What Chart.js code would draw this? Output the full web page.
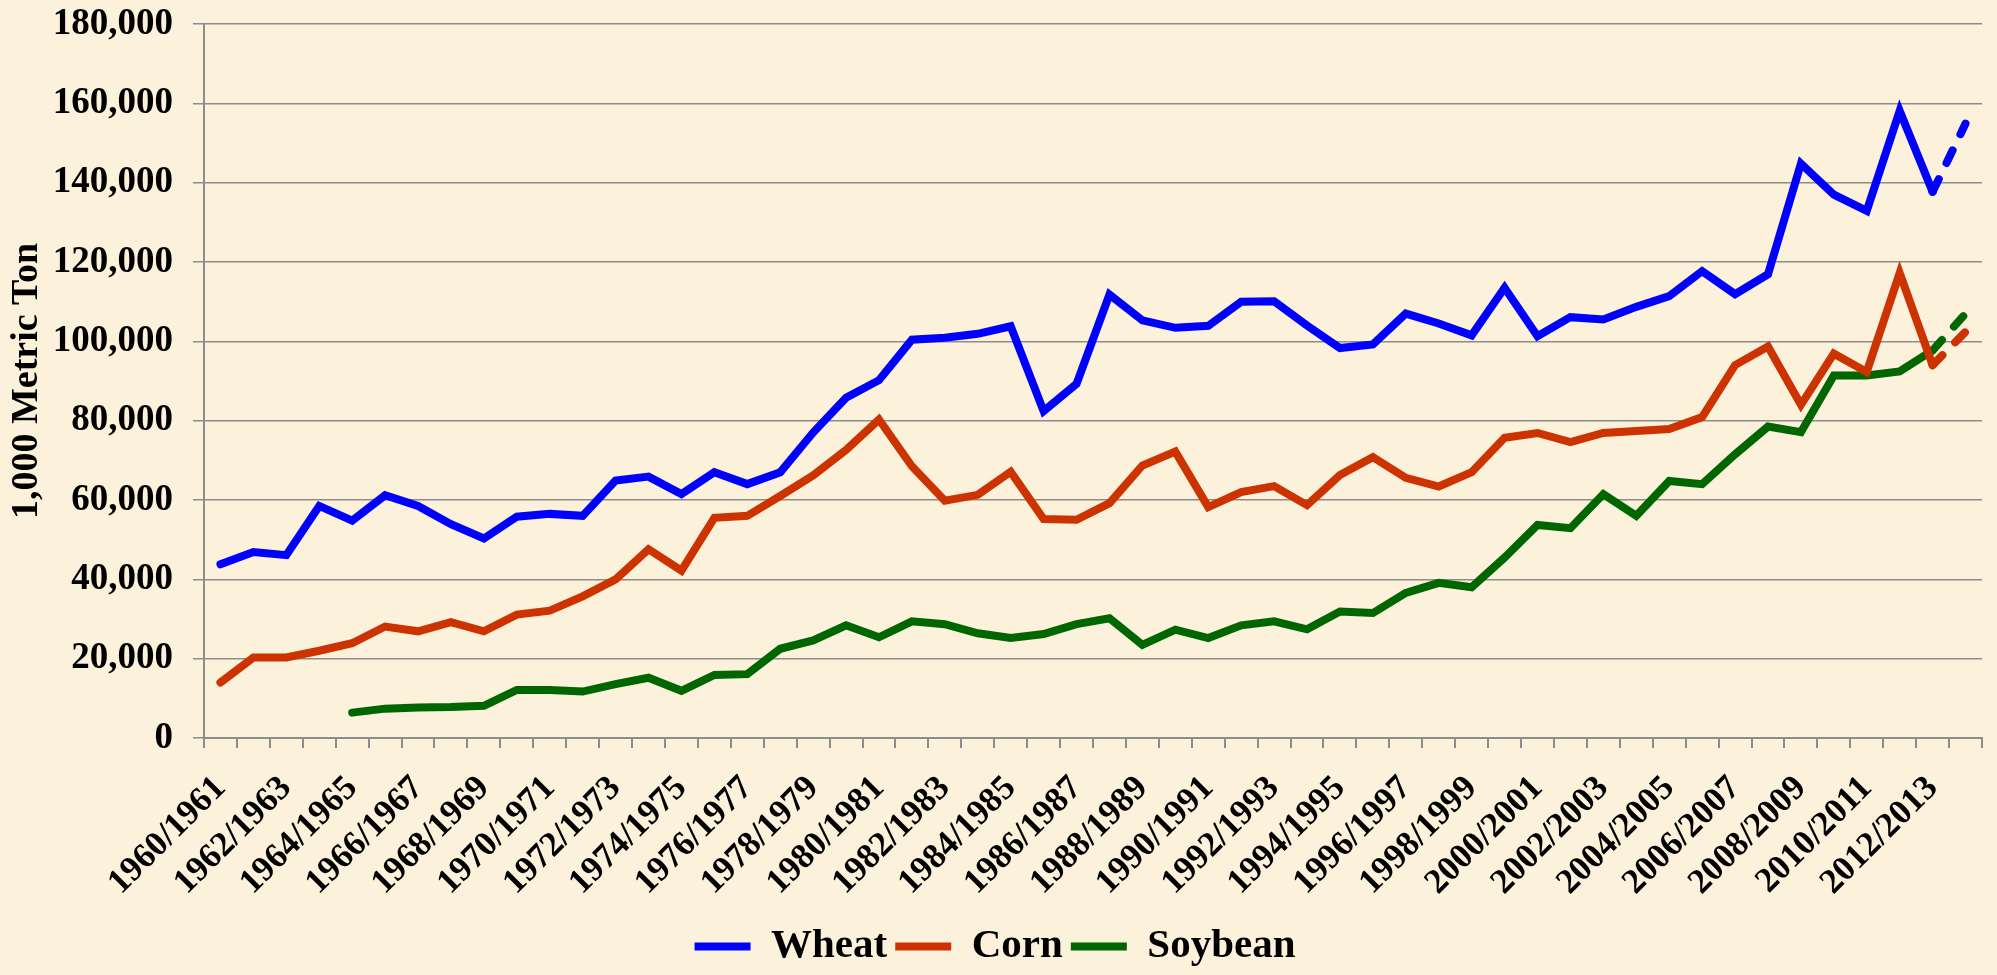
<!DOCTYPE html>
<html lang="en">
<head>
    <meta charset="UTF-8">
    <title>Wheat, Corn and Soybean</title>
    <script src="https://cdn.jsdelivr.net/npm/chart.js"></script>
    <style>
        html, body {
            margin: 0;
            padding: 0;
            background-color: #fcf1da;
        }
        #wrap {
            width: 1997px;
            height: 975px;
        }
    </style>
</head>
<body>
    <div id="wrap"><canvas id="cropChart"></canvas></div>

    <script>
        const years = [
            '1960/1961', '1961/1962', '1962/1963', '1963/1964', '1964/1965', '1965/1966',
            '1966/1967', '1967/1968', '1968/1969', '1969/1970', '1970/1971', '1971/1972',
            '1972/1973', '1973/1974', '1974/1975', '1975/1976', '1976/1977', '1977/1978',
            '1978/1979', '1979/1980', '1980/1981', '1981/1982', '1982/1983', '1983/1984',
            '1984/1985', '1985/1986', '1986/1987', '1987/1988', '1988/1989', '1989/1990',
            '1990/1991', '1991/1992', '1992/1993', '1993/1994', '1994/1995', '1995/1996',
            '1996/1997', '1997/1998', '1998/1999', '1999/2000', '2000/2001', '2001/2002',
            '2002/2003', '2003/2004', '2004/2005', '2005/2006', '2006/2007', '2007/2008',
            '2008/2009', '2009/2010', '2010/2011', '2011/2012', '2012/2013', '2013/2014'
        ];

        const wheat = [
            43800, 46900, 46100, 58500, 54800, 61200, 58500, 53900, 50300, 55800,
            56500, 56000, 64900, 65900, 61500, 67000, 64000, 67000, 77000, 85800,
            90200, 100400, 100900, 101900, 103800, 82400, 89300, 111800, 105300, 103400,
            103900, 110000, 110100, 104000, 98300, 99200, 107000, 104500, 101500, 113500,
            101300, 106100, 105500, 108700, 111400, 117700, 111900, 116900, 144800, 137000,
            132900, 158100, 137700, 154900
        ];

        const corn = [
            14000, 20300, 20300, 22000, 23900, 28100, 26900, 29200, 26900, 31100,
            32100, 35700, 40000, 47600, 42200, 55500, 56000, 61000, 66200, 72600,
            80300, 68500, 59800, 61300, 67100, 55200, 55000, 59200, 68700, 72200,
            58200, 62000, 63500, 58700, 66300, 70800, 65600, 63400, 67000, 75700,
            76900, 74600, 76900, 77400, 77900, 80900, 94000, 98700, 84000, 96900,
            92300, 117200, 94000, 102400
        ];

        const soybean = [
            null, null, null, null, 6400, 7400, 7700, 7800, 8100, 12100,
            12100, 11700, 13600, 15200, 11900, 15900, 16100, 22500, 24600, 28400,
            25400, 29400, 28700, 26400, 25200, 26200, 28700, 30200, 23500, 27300,
            25200, 28400, 29400, 27400, 31900, 31500, 36600, 39100, 38000, 45500,
            53700, 52900, 61500, 56000, 64800, 64000, 71500, 78500, 77100, 91400,
            91400, 92400, 97700, 107000
        ];

        const yTicks = [0, 20000, 40000, 60000, 80000, 100000, 120000, 140000, 160000, 180000];

        const serif = "'Liberation Serif', 'Times New Roman', serif";
        const lastIndex = years.length - 1;

        function series(label, data, color) {
            return {
                label: label,
                data: data,
                borderColor: color,
                backgroundColor: color,
                borderWidth: 8,
                borderCapStyle: 'round',
                pointRadius: 0,
                pointHoverRadius: 0,
                tension: 0,
                spanGaps: false,
                segment: {
                    // last year is a projection
                    borderDash: ctx => ctx.p1DataIndex === lastIndex ? [14, 18] : undefined
                }
            };
        }

        const paperBackground = {
            id: 'paperBackground',
            beforeDraw(chart) {
                const c = chart.ctx;
                c.save();
                c.fillStyle = '#fcf1da';
                c.fillRect(0, 0, chart.width, chart.height);
                c.restore();
            }
        };

        document.addEventListener('DOMContentLoaded', function() {
            const ctx = document.getElementById('cropChart').getContext('2d');

            new Chart(ctx, {
                type: 'line',
                data: {
                    labels: years,
                    datasets: [
                        series('Wheat', wheat, '#0000ff'),
                        series('Corn', corn, '#cc3300'),
                        series('Soybean', soybean, '#006600')
                    ]
                },
                options: {
                    responsive: true,
                    maintainAspectRatio: false,
                    animation: false,
                    layout: {
                        padding: { left: 8, right: 15, top: 0, bottom: -2 }
                    },
                    plugins: {
                        tooltip: { enabled: false },
                        legend: {
                            position: 'bottom',
                            labels: {
                                usePointStyle: true,
                                pointStyle: 'line',
                                pointStyleWidth: 56,
                                boxHeight: 10,
                                padding: 8,
                                color: '#000',
                                font: { family: serif, size: 41, weight: 'bold' }
                            }
                        }
                    },
                    scales: {
                        x: {
                            offset: true,
                            afterFit: function(axis) {
                                axis.paddingLeft = 0;
                                axis.paddingRight = 0;
                                axis.height = 180;
                            },
                            grid: {
                                offset: true,
                                drawOnChartArea: false,
                                drawTicks: true,
                                tickLength: 10,
                                color: '#8c8c8c',
                                lineWidth: 2
                            },
                            border: { color: '#8c8c8c', width: 2 },
                            ticks: {
                                autoSkip: false,
                                minRotation: 45,
                                maxRotation: 45,
                                padding: 20,
                                color: '#000',
                                font: { family: serif, size: 35, weight: 'bold' },
                                callback: function(value, index) {
                                    return index % 2 === 0 ? years[index] : '';
                                }
                            }
                        },
                        y: {
                            min: 0,
                            max: 180000,
                            afterBuildTicks: function(axis) {
                                axis.ticks = yTicks.map(v => ({ value: v }));
                            },
                            afterFit: function(axis) {
                                // keep just half a label above the top gridline
                                axis.paddingTop = 24;
                                axis.paddingBottom = 0;
                                axis.width = 196;
                            },
                            grid: {
                                color: '#8c8c8c',
                                lineWidth: 1.5,
                                tickLength: 11
                            },
                            border: { color: '#8c8c8c', width: 2 },
                            title: {
                                display: true,
                                text: '1,000 Metric Ton',
                                color: '#000',
                                padding: { top: 0, bottom: 7 },
                                font: { family: serif, size: 38, weight: 'bold', lineHeight: 1 }
                            },
                            ticks: {
                                padding: 20,
                                color: '#000',
                                font: { family: serif, size: 37, weight: 'bold' },
                                callback: function(value) {
                                    return value.toLocaleString('en-US');
                                }
                            }
                        }
                    }
                },
                plugins: [paperBackground]
            });
        });
    </script>
</body>
</html>
